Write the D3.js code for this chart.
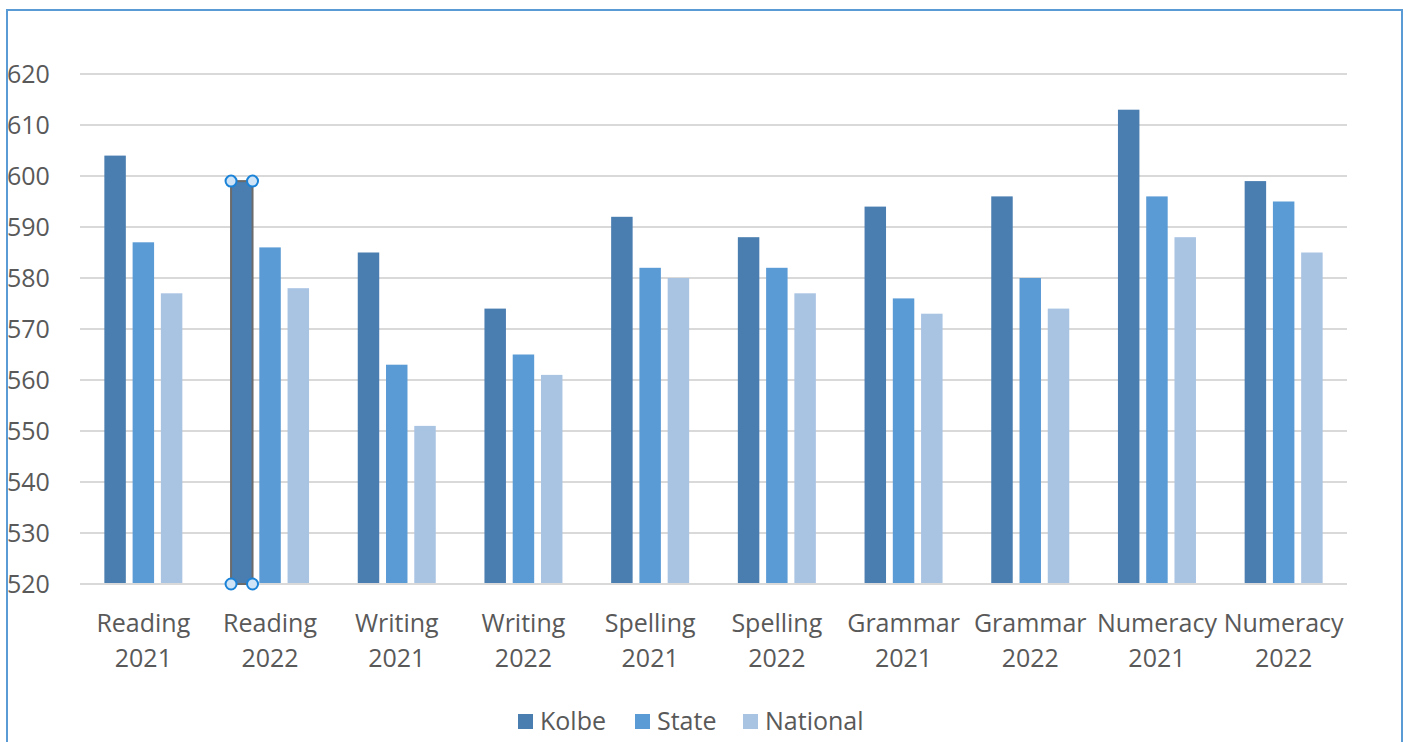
<!DOCTYPE html>
<html><head><meta charset="utf-8">
<script src="https://cdn.jsdelivr.net/npm/d3@7"></script>
<style>body{margin:0;background:#fff;}svg{display:block;}</style>
</head><body>
<svg id="c" width="1409" height="742"></svg>
<script>
const categories = ["Reading 2021","Reading 2022","Writing 2021","Writing 2022","Spelling 2021","Spelling 2022","Grammar 2021","Grammar 2022","Numeracy 2021","Numeracy 2022"];
const seriesNames = ["Kolbe","State","National"];
const kolbe =    [604,599,585,574,592,588,594,596,613,599];
const state =    [587,586,563,565,582,582,576,580,596,595];
const national = [577,578,551,561,580,577,573,574,588,585];
const yTicks = [520,530,540,550,560,570,580,590,600,610,620];
const colors = ["#4A7DB0","#5B9BD5","#A9C3E3"];

(function(){
const svg = d3.select("#c");
const font = "'Open Sans', sans-serif";
const textColor = "#595959";

// border
svg.append("rect").attr("x",7).attr("y",10).attr("width",1395).attr("height",760)
  .attr("fill","none").attr("stroke","#5B9BD5").attr("stroke-width",2);

const pL=80, pR=1347, pT=74, pB=584;
const x = d3.scaleBand().domain(categories).range([pL,pR]);
const xi = d3.scaleBand().domain(seriesNames).range([0,78]).paddingInner(0.24);
const y = d3.scaleLinear().domain([520,620]).range([pB,pT]);

// grid
svg.append("g").selectAll("line").data(yTicks).join("line")
  .attr("x1",pL).attr("x2",pR).attr("y1",d=>y(d)).attr("y2",d=>y(d))
  .attr("stroke","#D9D9D9").attr("stroke-width",2);

// y labels
svg.append("g").selectAll("text").data(yTicks).join("text")
  .attr("x",7).attr("y",d=>y(d)).attr("dy","0.36em")
  .attr("font-family",font).attr("font-size",25).attr("fill",textColor).text(d=>d);

const data = [kolbe,state,national];
seriesNames.forEach((s,si)=>{
  svg.append("g").selectAll("rect").data(categories).join("rect")
    .attr("x",(c)=>x(c)+x.bandwidth()/2-39+xi(s))
    .attr("width",xi.bandwidth())
    .attr("y",(c,i)=>y(data[si][i]))
    .attr("height",(c,i)=>pB-y(data[si][i]))
    .attr("fill",colors[si]);
});

// axis baseline
svg.append("line").attr("x1",pL).attr("x2",pR).attr("y1",pB).attr("y2",pB)
  .attr("stroke","#D9D9D9").attr("stroke-width",2);

// selected bar (Reading 2022 Kolbe)
const selC = categories[1];
const sx0 = x(selC)+x.bandwidth()/2-39+xi("Kolbe");
const sx1 = sx0+xi.bandwidth();
const sy0 = y(kolbe[1]);
svg.append("rect").attr("x",sx0).attr("y",sy0).attr("width",xi.bandwidth()).attr("height",pB-sy0)
  .attr("fill","none").attr("stroke","#6b6b6b").attr("stroke-width",2);
[[sx0,sy0],[sx1,sy0],[sx0,pB],[sx1,pB]].forEach(p=>{
  svg.append("circle").attr("cx",p[0]).attr("cy",p[1]).attr("r",5.5)
    .attr("fill","#CFE4F7").attr("stroke","#1A83D8").attr("stroke-width",2);
});

// category labels
const lab = svg.append("g");
categories.forEach(c=>{
  const parts = c.split(" ");
  const cx = x(c)+x.bandwidth()/2;
  const t = lab.append("text").attr("text-anchor","middle")
    .attr("font-family",font).attr("font-size",25).attr("fill",textColor);
  t.append("tspan").attr("x",cx).attr("y",632).text(parts[0]);
  t.append("tspan").attr("x",cx).attr("y",667).text(parts[1]);
});

// legend
const legItems = [{n:"Kolbe",x:518},{n:"State",x:635},{n:"National",x:743}];
legItems.forEach((l,i)=>{
  svg.append("rect").attr("x",l.x).attr("y",714).attr("width",15).attr("height",15).attr("fill",colors[i]);
  svg.append("text").attr("x",l.x+22).attr("y",730).attr("font-family",font).attr("font-size",25)
    .attr("fill",textColor).text(l.n);
});
})();
</script>
</body></html>
